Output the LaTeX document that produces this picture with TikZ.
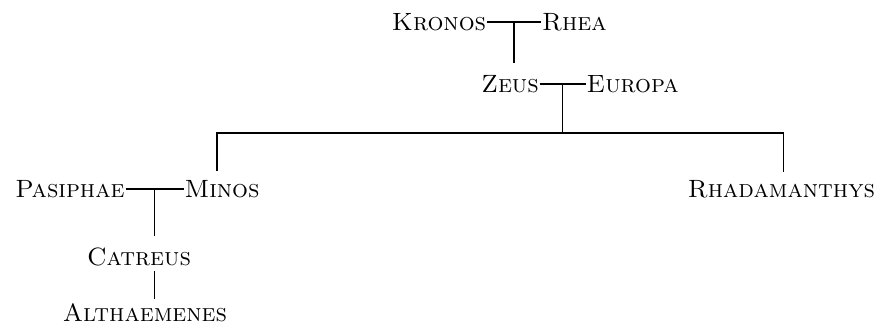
\documentclass[tikz,border=0pt]{standalone}
\usepackage{tikz}
\usetikzlibrary{calc,positioning}

\begin{document}
\begin{tikzpicture}[x=1pt, y=-1pt,
        line/.style={draw, line width=1.2pt},
        descent/.style={line, shorten >=#1},
        descent/.default=12pt]
        \tikzset{
                person/.style = {font=\fontsize{25}{28}\selectfont\scshape,
                                inner xsep=1pt, inner ysep=0pt, outer sep=0pt}
        }
        \useasboundingbox (0,0) rectangle (882,329);

        % first couple
        \node[person] (kronos) at (439,22) {Kronos};
        \node[person, right=54pt of kronos] (rhea) {Rhea};

        % second couple
        \node[person] (zeus) at (510,84) {Zeus};
        \node[person, right=46pt of zeus] (europa) {Europa};

        % sons of Zeus and Europa
        \node[person] (minos) at (222,189) {Minos};
        \node[person, left=58pt of minos] (pasiphae) {Pasiphae};
        \node[person, anchor=east] (rhadamanthys) at (876,189) {Rhadamanthys};

        % line of Minos
        \node[person] (catreus) at (139,257) {Catreus};
        \node[person, below=38pt of catreus, xshift=6pt] (althaemenes) {Althaemenes};

        % marriage lines and their middle points
        \draw[line] (kronos) -- (rhea);
        \draw[line] (zeus) -- (europa);
        \draw[line] (pasiphae) -- (minos);
        \coordinate (kr) at ($(kronos.east)!0.5!(rhea.west)$);
        \coordinate (ze) at ($(zeus.east)!0.5!(europa.west)$);
        \coordinate (pm) at ($(pasiphae.east)!0.5!(minos.west)$);
        \coordinate (bar) at ($(ze)+(0,49)$);

        % lines down to the children
        \draw[descent=12pt] (kr) -- (kr |- zeus.north);
        \draw[line] (ze) -- (bar);
        \draw[descent=9pt] (bar) -| ([xshift=-5pt]minos.north);
        \draw[descent=8pt] (bar) -| ([xshift=2pt]rhadamanthys.north);
        \draw[descent=12pt] (pm) -- (pm |- catreus.north);
        \draw[line, shorten <=5pt, shorten >=5pt] (pm |- catreus.south) -- (pm |- althaemenes.north);
\end{tikzpicture}
\end{document}
